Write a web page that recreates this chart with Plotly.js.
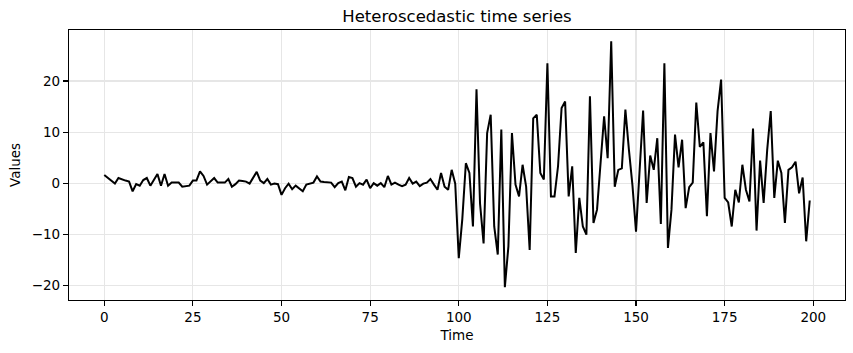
<!DOCTYPE html>
<html>
<head>
<meta charset="utf-8">
<script src="https://cdn.plot.ly/plotly-3.0.1.min.js"></script>
<style>html,body{margin:0;padding:0;background:#fff;}#chart{width:853px;height:353px;}</style>
</head>
<body>
<div id="chart"></div>
<script>
const titleText = "Heteroscedastic time series";
const xLabel = "Time";
const yLabel = "Values";
const xTicks = [0, 25, 50, 75, 100, 125, 150, 175, 200];
const yTicks = [-20, -10, 0, 10, 20];

const valuesCalm = [
  1.6, 1.0, 0.4, -0.1, 1.0, 0.7, 0.5, 0.3, -1.6, -0.2,
  -0.5, 0.6, 1.0, -0.5, 0.6, 1.8, -0.5, 1.8, -0.5, 0.1,
  0.1, 0.1, -0.7, -0.6, -0.5, 0.5, 0.5, 2.3, 1.4, -0.3,
  0.4, 1.0, 0.1, 0.1, 0.1, 0.8, -0.7, -0.2, 0.5, 0.4,
  0.3, -0.1, 1.0, 2.2, 0.5, 0.0, 0.8, -0.3, -0.1, -0.2,
  -2.3, -1.0, -0.1, -1.2, -0.5, -1.0, -1.6, -0.3, -0.1, 0.1,
  1.3, 0.3, 0.2, 0.1, 0.1, -0.8, 0.0, 0.3, -1.4, 1.2,
  1.0, -0.7, 0.0, -0.3, 0.7, -1.0, 0.0, -0.5, 0.0, -0.8,
  1.4, -0.3, 0.1, -0.3, -0.6, -0.3, 1.0, -0.1, 0.3, -0.6,
  -0.1, 0.1, 0.8, -0.3, -1.3, 2.0, -0.7, -1.3, 2.6, -0.1
];
const valuesVolatile = [
  -14.7, -7.0, 3.9, 2.0, -8.5, 18.4, -4.0, -11.8, 9.8, 13.4,
  -8.5, -14.0, 10.5, -20.4, -12.4, 9.8, -0.3, -2.6, 3.6, -0.7,
  -13.1, 12.7, 13.4, 2.0, 0.7, 23.5, -2.6, -2.6, 3.3, 14.7,
  16.0, -2.6, 3.3, -13.7, -2.9, -8.5, -10.1, 17.0, -7.8, -5.2,
  4.0, 13.1, 4.9, 27.8, -0.7, 2.6, 2.9, 14.4, 6.5, -0.5,
  -9.5, 2.5, 14.2, -3.9, 5.4, 2.6, 8.8, -8.0, 23.5, -12.7,
  -5.2, 9.5, 3.1, 8.5, -4.9, -0.8, 0.1, 15.8, 7.1, 8.0,
  -6.5, 9.8, 2.3, 14.1, 20.3, -2.9, -3.8, -8.5, -1.3, -3.8,
  3.6, -1.3, -3.6, 10.7, -9.3, 4.4, -3.9, 6.5, 14.1, -2.9,
  4.4, 2.0, -7.8, 2.6, 3.1, 4.2, -2.0, 1.1, -11.4, -3.4
];

const values = valuesCalm.concat(valuesVolatile);
const time = values.map((_, i) => i);

const font = "DejaVu Sans, sans-serif";
const gridColor = "#e6e6e6";

const trace = {
  x: time, y: values, type: "scatter", mode: "lines",
  line: {color: "#000000", width: 2},
  hoverinfo: "skip"
};

const axisCommon = {
  showline: true, linecolor: "#000", linewidth: 1.1, mirror: true,
  ticks: "outside", ticklen: 5, tickwidth: 1.1, tickcolor: "#000",
  showgrid: true, gridcolor: gridColor, gridwidth: 1.1,
  zeroline: false,
  tickfont: {family: font, size: 13.5, color: "#000"},
  tickmode: "array"
};

const layout = {
  width: 853, height: 353,
  paper_bgcolor: "#fff", plot_bgcolor: "#fff",
  margin: {l: 69, r: 8, t: 30, b: 53, pad: 0},
  showlegend: false,
  title: {
    text: titleText, font: {family: font, size: 16.5, color: "#000"},
    x: 0.5, xref: "paper", xanchor: "center",
    y: 1 - 16.5 / 353, yref: "container", yanchor: "middle"
  },
  xaxis: Object.assign({}, axisCommon, {
    range: [-9.95, 208.95], tickvals: xTicks, ticktext: xTicks.map(String),
    title: {text: xLabel, font: {family: font, size: 13.5, color: "#000"}, standoff: 6}
  }),
  yaxis: Object.assign({}, axisCommon, {
    range: [-22.9, 30.0], tickvals: yTicks,
    ticktext: yTicks.map(v => v < 0 ? "\u2212" + Math.abs(v) : String(v)),
    title: {text: yLabel, font: {family: font, size: 13.5, color: "#000"}, standoff: 8}
  })
};

Plotly.newPlot("chart", [trace], layout, {staticPlot: true, displayModeBar: false});
</script>
</body>
</html>
